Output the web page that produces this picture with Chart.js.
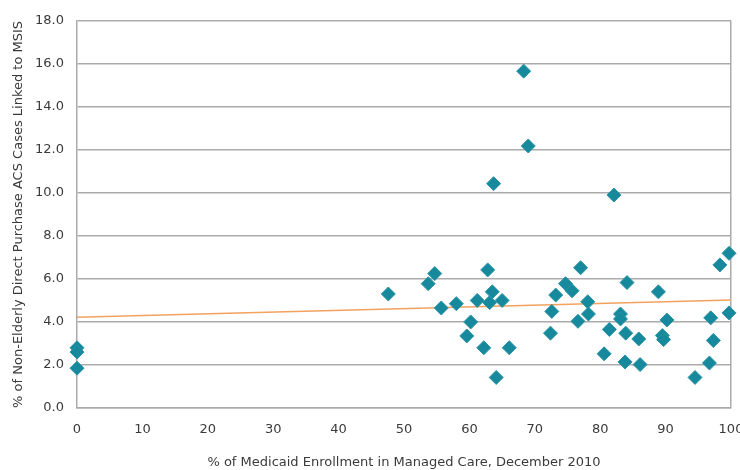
<!DOCTYPE html>
<html>
<head>
<meta charset="utf-8">
<script src="https://cdn.jsdelivr.net/npm/chart.js@4/dist/chart.umd.min.js"></script>
<style>
  html, body { margin: 0; padding: 0; background: #fff; }
  #wrap { width: 740px; height: 470px; }
</style>
</head>
<body>
<div id="wrap"><canvas id="c" width="740" height="470"></canvas></div>
<script>
const xTickLabels = ['0','10','20','30','40','50','60','70','80','90','100'];
const yTickLabels = ['0.0','2.0','4.0','6.0','8.0','10.0','12.0','14.0','16.0','18.0'];

const managedCarePct = [
  0, 0, 0, 47.6, 53.7, 54.7, 55.7, 58.0, 59.6, 60.2,
  61.2, 62.2, 62.8, 63.1, 63.5, 63.7, 64.1, 65.0, 66.1, 68.3,
  69.0, 72.4, 72.6, 73.2, 74.7, 75.7, 76.6, 77.0, 78.1, 78.2,
  80.6, 81.4, 82.1, 83.1, 83.1, 83.8, 83.9, 84.1, 85.9, 86.1,
  88.9, 89.5, 89.7, 90.2, 94.5, 96.7, 96.9, 97.3, 98.3, 99.7, 99.7
];
const linkedPct = [
  2.8, 2.6, 1.85, 5.3, 5.78, 6.25, 4.65, 4.85, 3.35, 4.0,
  5.0, 2.8, 6.42, 4.9, 5.4, 10.43, 1.42, 5.0, 2.8, 15.66,
  12.18, 3.48, 4.49, 5.25, 5.78, 5.45, 4.03, 6.52, 4.94, 4.37,
  2.52, 3.65, 9.9, 4.37, 4.14, 2.14, 3.48, 5.83, 3.21, 2.02,
  5.4, 3.37, 3.18, 4.09, 1.42, 2.09, 4.19, 3.14, 6.65, 7.19, 4.42
];
const trendX = [0, 100];
const trendY = [4.22, 5.02];

const FONT = "'DejaVu Sans', sans-serif";
const GRID = '#ababab';

const scatterPts = managedCarePct.map((x, i) => ({ x: x, y: linkedPct[i] }));
const trendPts = trendX.map((x, i) => ({ x: x, y: trendY[i] }));

new Chart(document.getElementById('c'), {
  type: 'scatter',
  data: {
    datasets: [
      {
        label: 'Trend',
        data: trendPts,
        type: 'line',
        showLine: true,
        borderColor: '#f2a25e',
        borderWidth: 1.6,
        pointRadius: 0,
        fill: false,
        order: 2
      },
      {
        label: 'States',
        data: scatterPts,
        pointStyle: 'rectRot',
        pointRadius: 7,
        pointBackgroundColor: '#17899c',
        pointBorderColor: '#2a93a5',
        pointBorderWidth: 1,
        clip: false,
        order: 1
      }
    ]
  },
  options: {
    responsive: false,
    animation: false,
    devicePixelRatio: 1,
    layout: { padding: { top: 12, right: 9, left: 0, bottom: 0 } },
    plugins: {
      legend: { display: false },
      tooltip: { enabled: false },
      title: { display: false }
    },
    scales: {
      x: {
        type: 'linear',
        min: 0,
        max: 100,
        afterFit: (s) => { s.height = 62; s.paddingRight = 0; s.paddingLeft = 0; },
        ticks: {
          stepSize: 10,
          padding: 14,
          color: '#3a3a3a',
          font: { family: FONT, size: 13, style: 'condensed' },
          callback: (v) => xTickLabels[Math.round(v / 10)]
        },
        grid: {
          drawTicks: false,
          lineWidth: 1.5,
          color: (ctx) => (ctx.tick && ctx.tick.value === 100) ? GRID : 'rgba(0,0,0,0)'
        },
        border: { display: true, color: GRID, width: 1.5 },
        title: {
          display: true,
          text: '% of Medicaid Enrollment in Managed Care, December 2010',
          color: '#3a3a3a',
          font: { family: FONT, size: 13, style: 'condensed' },
          padding: { top: 5, bottom: 0 }
        }
      },
      y: {
        type: 'linear',
        min: 0,
        max: 18,
        afterFit: (s) => { s.width = 77; },
        ticks: {
          stepSize: 2,
          padding: 13,
          color: '#3a3a3a',
          font: { family: FONT, size: 13, style: 'condensed' },
          callback: (v) => yTickLabels[Math.round(v / 2)]
        },
        grid: {
          drawTicks: false,
          lineWidth: 1.5,
          color: GRID
        },
        border: { display: true, color: GRID, width: 1.5 },
        title: {
          display: true,
          text: '% of Non-Elderly Direct Purchase ACS Cases Linked to MSIS',
          color: '#3a3a3a',
          font: { family: FONT, size: 13, style: 'condensed' },
          padding: { top: 11, bottom: 4 }
        }
      }
    }
  }
});
</script>
</body>
</html>
